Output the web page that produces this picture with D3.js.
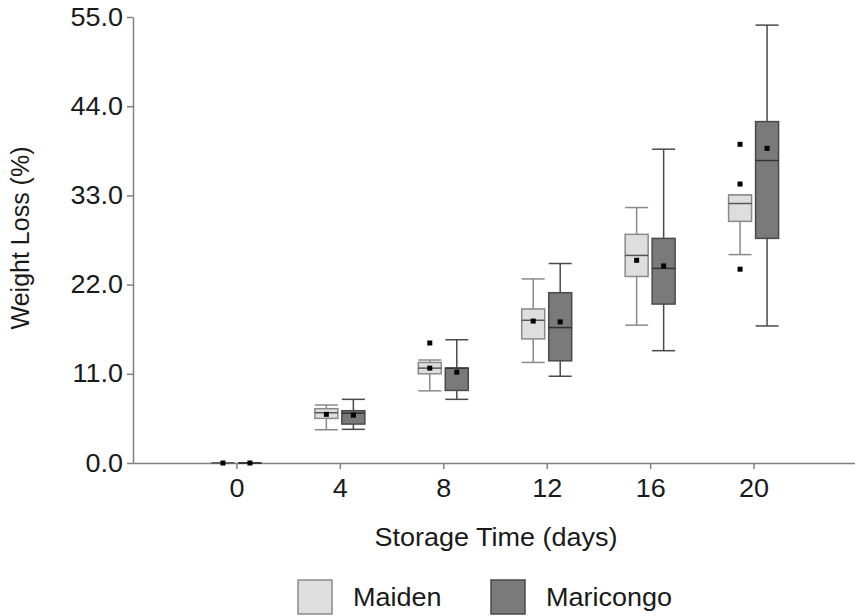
<!DOCTYPE html>
<html>
<head>
<meta charset="utf-8">
<script src="https://cdn.jsdelivr.net/npm/d3@7"></script>
<style>
  html, body { margin: 0; padding: 0; background: #fff; }
  svg text { font-family: "Liberation Sans", Arial, sans-serif; fill: #1a1a1a; }
</style>
</head>
<body>
<svg id="chart" width="855" height="616"></svg>
<script>
// ---- Data ----
const days = [0, 4, 8, 12, 16, 20];
const yTicks = [0, 11, 22, 33, 44, 55];
const seriesNames = ["Maiden", "Maricongo"];

const maidenLow    = [0, 4.1, 8.9, 12.4, 17.0, 25.7];
const maidenQ1     = [0, 5.5, 11.0, 15.3, 23.0, 29.8];
const maidenMedian = [0, 6.2, 11.7, 17.6, 25.6, 32.0];
const maidenQ3     = [0, 6.7, 12.4, 19.0, 28.2, 33.05];
const maidenHigh   = [0, 7.15, 12.7, 22.7, 31.5, 33.05];
const maidenMean   = [0, 6.0, 11.7, 17.5, 25.0, 34.4];
const maidenOutliers = [[], [], [14.8], [], [], [39.3, 23.9]];

const maricongoLow    = [0, 4.15, 7.85, 10.7, 13.85, 16.9];
const maricongoQ1     = [0, 4.8, 8.95, 12.6, 19.6, 27.7];
const maricongoMedian = [0, 6.15, 11.7, 16.7, 24.0, 37.3];
const maricongoQ3     = [0, 6.45, 11.7, 21.0, 27.7, 42.1];
const maricongoHigh   = [0, 7.85, 15.2, 24.6, 38.7, 54.0];
const maricongoMean   = [0, 5.9, 11.2, 17.4, 24.3, 38.8];
const maricongoOutliers = [[], [], [], [], [], []];

// ---- Build ----
const series = [
  { name: seriesNames[0], offset: -13.5, fill: "#dedede", stroke: "#8a8a8a", med: "#555",
    low: maidenLow, q1: maidenQ1, median: maidenMedian, q3: maidenQ3, high: maidenHigh, mean: maidenMean, out: maidenOutliers },
  { name: seriesNames[1], offset: 13.5, fill: "#7a7a7a", stroke: "#4a4a4a", med: "#333",
    low: maricongoLow, q1: maricongoQ1, median: maricongoMedian, q3: maricongoQ3, high: maricongoHigh, mean: maricongoMean, out: maricongoOutliers }
];

const svg = d3.select("#chart");
const x = d3.scaleLinear().domain([-4, 24]).range([133, 857]);
const y = d3.scaleLinear().domain([0, 55]).range([463, 17]);
const boxW = 23;
const stretch = 1.08;
function widen(sel) {
  sel.each(function () {
    const L = this.getComputedTextLength();
    d3.select(this).attr("textLength", L * stretch).attr("lengthAdjust", "spacingAndGlyphs");
  });
}

// Axes
const axisColor = "#808080";
const yAxis = svg.append("g").attr("transform", "translate(133,0)")
  .call(d3.axisLeft(y).tickValues(yTicks).tickFormat(d3.format(".1f")).tickSize(6).tickSizeOuter(0).tickPadding(4));
const xAxis = svg.append("g").attr("transform", "translate(0,463)")
  .call(d3.axisBottom(x).tickValues(days).tickFormat(d3.format("d")).tickSize(6).tickSizeOuter(0).tickPadding(10));
[yAxis, xAxis].forEach(g => {
  g.select(".domain").attr("stroke", axisColor).attr("stroke-width", 1.5);
  g.selectAll(".tick line").attr("stroke", axisColor).attr("stroke-width", 1.5);
  g.selectAll(".tick text").style("font-size", "25px").attr("fill", "#1a1a1a")
    .style("font-family", '"Liberation Sans", Arial, sans-serif');
  widen(g.selectAll(".tick text"));
});

// Boxes
series.forEach(s => {
  const g = svg.append("g");
  days.forEach((d, i) => {
    const cx = x(d) + s.offset;
    const left = cx - boxW / 2;
    g.append("line").attr("x1", cx).attr("x2", cx).attr("y1", y(s.high[i])).attr("y2", y(s.q3[i]))
      .attr("stroke", s.stroke).attr("stroke-width", 1.5);
    g.append("line").attr("x1", cx).attr("x2", cx).attr("y1", y(s.q1[i])).attr("y2", y(s.low[i]))
      .attr("stroke", s.stroke).attr("stroke-width", 1.5);
    [s.high[i], s.low[i]].forEach(v => {
      g.append("line").attr("x1", left).attr("x2", left + boxW).attr("y1", y(v)).attr("y2", y(v))
        .attr("stroke", s.stroke).attr("stroke-width", 1.5);
    });
    g.append("rect").attr("x", left).attr("y", y(s.q3[i])).attr("width", boxW)
      .attr("height", y(s.q1[i]) - y(s.q3[i]))
      .attr("fill", s.fill).attr("stroke", s.stroke).attr("stroke-width", 1.5);
    g.append("line").attr("x1", left).attr("x2", left + boxW).attr("y1", y(s.median[i])).attr("y2", y(s.median[i]))
      .attr("stroke", s.med).attr("stroke-width", 1.5);
    g.append("rect").attr("x", cx - 2.5).attr("y", y(s.mean[i]) - 2.5).attr("width", 5).attr("height", 5)
      .attr("fill", "#000");
    s.out[i].forEach(v => {
      g.append("rect").attr("x", cx - 2.5).attr("y", y(v) - 2.5).attr("width", 5).attr("height", 5)
        .attr("fill", "#000");
    });
  });
});

// Axis titles
const xt = svg.append("text").attr("x", 496).attr("y", 546).attr("text-anchor", "middle")
  .style("font-size", "25px").text("Storage Time (days)");
widen(xt);
svg.append("text").attr("transform", "translate(29,238) rotate(-90)").attr("text-anchor", "middle")
  .style("font-size", "25px").text("Weight Loss (%)");

// Legend
const legendX = [298, 491];
series.forEach((s, i) => {
  svg.append("rect").attr("x", legendX[i]).attr("y", 580).attr("width", 34).attr("height", 34)
    .attr("fill", s.fill).attr("stroke", s.stroke).attr("stroke-width", 1.5);
  const t = svg.append("text").attr("x", legendX[i] + 55).attr("y", 606)
    .style("font-size", "25px").text(s.name);
  widen(t);
});
</script>
</body>
</html>
